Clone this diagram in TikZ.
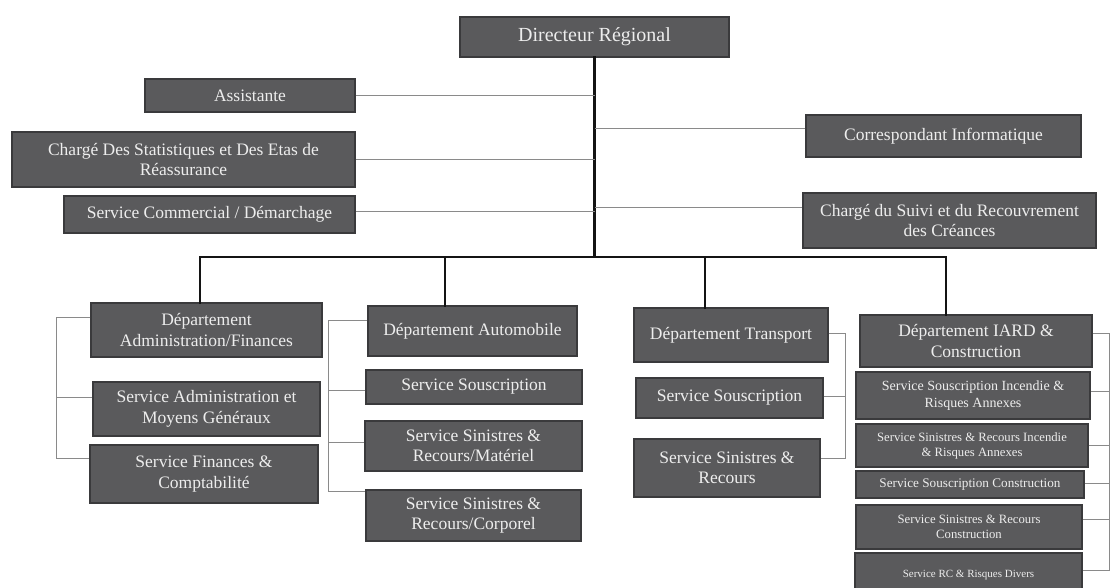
\documentclass[tikz,border=0pt]{standalone}
\usepackage{fontspec}
\setmainfont{Liberation Serif}
\definecolor{boxfill}{HTML}{5A5A5C}
\definecolor{boxline}{HTML}{3A3A3C}
\definecolor{boxtext}{HTML}{EDEDED}
\definecolor{thin}{HTML}{8A8A8A}
\begin{document}
\begin{tikzpicture}[x=1pt,y=-1pt,
  box/.style={draw=boxline, fill=boxfill, line width=1.2pt, text=boxtext,
    align=center, inner sep=1pt, font=\fontsize{17.5}{20.5}\selectfont},
  bigtxt/.style={font=\fontsize{20}{23}\selectfont},
  midtxt/.style={font=\fontsize{14}{16.5}\selectfont},
  smalltxt/.style={font=\fontsize{12.7}{15}\selectfont},
  tinytxt/.style={font=\fontsize{11}{13}\selectfont},
  trunk/.style={line width=2.6pt, draw=black!92, line cap=rect},
  side/.style={line width=0.9pt, draw=thin}]
\useasboundingbox (0,0) rectangle (1111,587);
\clip (0,0) rectangle (1111,587);
\fill[white] (0,0) rectangle (1111,587);

% top level
\node[box,bigtxt,minimum width=269pt,minimum height=40pt] (dir) at (594.5,37) {Directeur Régional};
\node[box,minimum width=210pt,minimum height=33pt] (assist) at (250,95.5) {Assistante};
\node[box,minimum width=343pt,minimum height=55pt] (stat) at (183.5,159.5) {Chargé Des Statistiques et Des Etas de\\Réassurance};
\node[box,minimum width=291pt,minimum height=37pt] (comm) at (209.5,214.5) {Service Commercial / Démarchage};
\node[box,minimum width=275pt,minimum height=42pt] (corr) at (943.5,136) {Correspondant Informatique};
\node[box,minimum width=293pt,minimum height=55pt] (suivi) at (949.5,220.5) {Chargé du Suivi et du Recouvrement\\des Créances};

% departments
\node[box,minimum width=231pt,minimum height=54pt] (adm) at (206.5,330) {Département\\Administration/Finances};
\node[box,minimum width=227pt,minimum height=54pt] (sadm) at (206.5,409) {Service Administration et\\Moyens Généraux};
\node[box,minimum width=228pt,minimum height=58pt] (sfin) at (204,474) {Service Finances \&\\Comptabilité};

\node[box,minimum width=209pt,minimum height=50pt] (auto) at (472.5,331) {Département Automobile};
\node[box,minimum width=216pt,minimum height=34pt] (aso) at (474,387) {Service Souscription};
\node[box,minimum width=217pt,minimum height=50pt] (amat) at (473.5,446) {Service Sinistres \&\\Recours/Matériel};
\node[box,minimum width=215pt,minimum height=51pt] (acor) at (473.5,515.5) {Service Sinistres \&\\Recours/Corporel};

\node[box,minimum width=194pt,minimum height=54pt] (tr) at (731,335) {Département Transport};
\node[box,minimum width=187pt,minimum height=40pt] (tso) at (729.5,398) {Service Souscription};
\node[box,minimum width=186pt,minimum height=58pt] (tsin) at (727,468) {Service Sinistres \&\\Recours};

\node[box,minimum width=232pt,minimum height=52pt] (iard) at (976,341) {Département IARD \&\\Construction};
\node[box,midtxt,minimum width=234pt,minimum height=47pt] (i1) at (973,395.5) {Service Souscription Incendie \&\\Risques Annexes};
\node[box,smalltxt,minimum width=232pt,minimum height=43pt] (i2) at (972,445.5) {Service Sinistres \& Recours Incendie\\\& Risques Annexes};
\node[box,font=\fontsize{13.2}{15}\selectfont,minimum width=228pt,minimum height=27pt] (i3) at (970,484.5) {Service Souscription Construction};
\node[box,smalltxt,minimum width=226pt,minimum height=44pt] (i4) at (969,527) {Service Sinistres \& Recours\\Construction};
\node[box,tinytxt,minimum width=227pt,minimum height=45pt] (i5) at (968.5,575.5) {Service RC \& Risques Divers};

% main trunk and bus
\coordinate (B) at (0,257);
\coordinate (ta) at ([xshift=-6.5pt]adm.north);
\coordinate (tb) at ([xshift=-27.5pt]auto.north);
\coordinate (tc) at ([xshift=-26pt]tr.north);
\coordinate (td) at ([xshift=-30pt]iard.north);
\draw[trunk] (dir.south) -- (dir.south |- B);
\draw[trunk] (ta) -- (ta |- B) -- (td |- B) -- (td);
\draw[trunk] (tb) -- (tb |- B);
\draw[trunk] (tc) -- (tc |- B);

% side connectors to the trunk
\coordinate (T) at (dir.south);
\draw[side] (assist.east) -- (assist.east -| T);
\draw[side] (stat.east) -- (stat.east -| T);
\coordinate (c1) at ([yshift=3.5pt]comm.east);
\draw[side] (c1) -- (c1 -| T);
\coordinate (c2) at ([yshift=8pt]corr.west);
\draw[side] (c2) -- (c2 -| T);
\coordinate (c3) at ([yshift=13.5pt]suivi.west);
\draw[side] (c3) -- (c3 -| T);

% Administration bracket
\coordinate (La) at (56,0);
\coordinate (a1) at ([yshift=13pt]adm.west);
\coordinate (a2) at ([yshift=12pt]sadm.west);
\coordinate (a3) at ([yshift=16pt]sfin.west);
\draw[side] (a1) -- (a1 -| La) -- (a3 -| La) -- (a3);
\draw[side] (a2) -- (a2 -| La);

% Automobile bracket
\coordinate (Lb) at (328,0);
\coordinate (b1) at ([yshift=11pt]auto.west);
\coordinate (b2) at ([yshift=-3pt]aso.west);
\coordinate (b3) at ([yshift=4pt]amat.west);
\coordinate (b4) at ([yshift=24pt]acor.west);
\draw[side] (b1) -- (b1 -| Lb) -- (b4 -| Lb) -- (b4);
\draw[side] (b2) -- (b2 -| Lb);
\draw[side] (b3) -- (b3 -| Lb);

% Transport bracket
\coordinate (Lc) at (845,0);
\coordinate (d1) at ([yshift=2pt]tr.east);
\coordinate (d2) at ([yshift=2pt]tso.east);
\coordinate (d3) at ([yshift=10pt]tsin.east);
\draw[side] (d1) -- (d1 -| Lc) -- (d3 -| Lc) -- (d3);
\draw[side] (d2) -- (d2 -| Lc);

% IARD bracket
\coordinate (Ld) at (1109,0);
\coordinate (e1) at ([yshift=8pt]iard.east);
\coordinate (e2) at ([yshift=4.5pt]i1.east);
\coordinate (e3) at ([yshift=0.5pt]i2.east);
\coordinate (e4) at ([yshift=1.5pt]i3.east);
\coordinate (e5) at ([yshift=8pt]i4.east);
\coordinate (e6) at ([yshift=5.5pt]i5.east);
\draw[side] (e1) -- (e1 -| Ld) -- (e6 -| Ld) -- (e6);
\draw[side] (e2) -- (e2 -| Ld);
\draw[side] (e3) -- (e3 -| Ld);
\draw[side] (e4) -- (e4 -| Ld);
\draw[side] (e5) -- (e5 -| Ld);
\end{tikzpicture}
\end{document}
